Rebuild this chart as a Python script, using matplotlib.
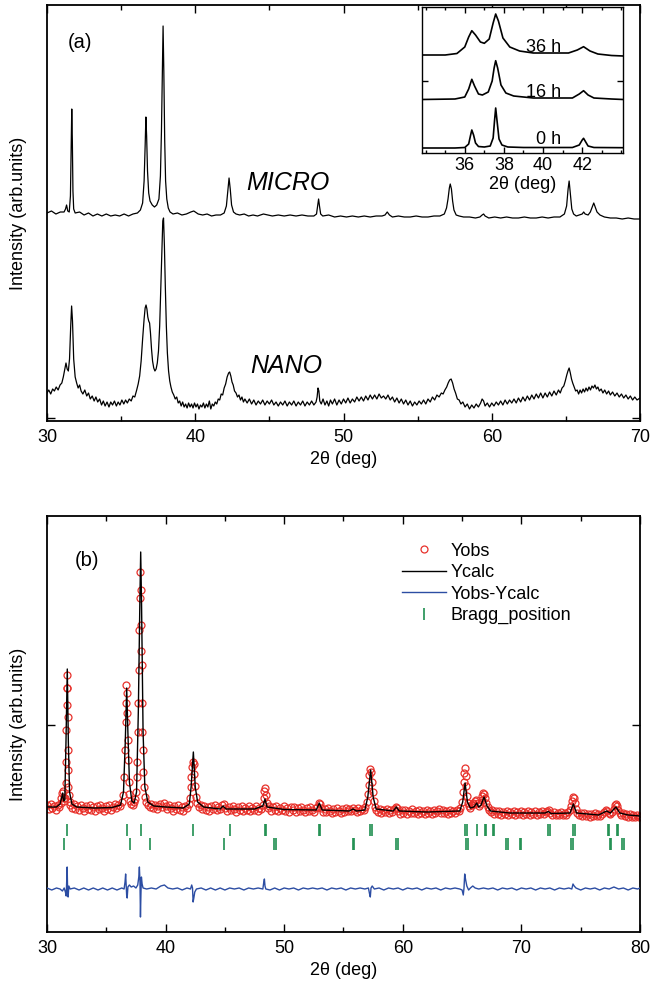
import numpy as np
import matplotlib
matplotlib.use("Agg")
import matplotlib.pyplot as plt
from matplotlib.ticker import MultipleLocator, NullFormatter

plt.rcParams['font.family'] = ['Liberation Sans', 'DejaVu Sans']

# ---------------- data: panel (a) ----------------
micro_pts = np.array([
(30.0,208),(30.3,210),(30.6,207),(30.9,209),(31.15,209),(31.25,212),(31.32,216),(31.4,210),(31.5,209),(31.58,225),(31.63,270),(31.67,312),(31.71,280),(31.75,230),(31.8,212),(31.9,208),(32.2,209),(32.5,206),(32.8,208),(33.1,205),(33.4,207),(33.7,205),(34.0,207),(34.3,205),(34.6,206),(34.9,205),(35.2,207),(35.5,205),(35.8,207),(36.1,208),(36.3,211),(36.45,218),(36.55,240),(36.62,275),(36.67,304),(36.72,285),(36.78,250),(36.86,228),(36.95,220),(37.1,216),(37.25,214),(37.4,216),(37.55,222),(37.65,245),(37.72,290),(37.78,350),(37.83,395),(37.88,350),(37.94,280),(38.0,240),(38.08,222),(38.18,213),(38.3,209),(38.5,207),(38.8,208),(39.1,206),(39.4,207),(39.7,209),(39.9,210),(40.2,207),(40.5,206),(40.8,207),(41.1,205),(41.4,206),(41.7,206),(41.95,208),(42.1,215),(42.2,230),(42.28,243),(42.36,232),(42.45,216),(42.58,209),(42.75,207),(43.0,206),(43.3,207),(43.6,205),(43.9,206),(44.2,205),(44.6,207),(44.9,206),(45.2,205),(45.6,206),(46.0,205),(46.4,206),(46.8,205),(47.2,206),(47.6,205),(48.0,205),(48.18,207),(48.26,216),(48.32,222),(48.38,215),(48.46,207),(48.6,205),(49.0,206),(49.4,204),(49.8,205),(50.2,204),(50.6,205),(51.0,204),(51.4,205),(51.8,204),(52.2,205),(52.6,205),(52.8,206),(52.95,209),(53.1,206),(53.3,204),(53.7,205),(54.1,204),(54.5,204),(54.9,205),(55.3,204),(55.7,204),(56.1,205),(56.5,205),(56.8,207),(56.95,213),(57.05,222),(57.14,233),(57.2,237),(57.28,232),(57.36,220),(57.45,211),(57.6,206),(57.8,205),(58.1,204),(58.5,204),(58.9,203),(59.2,204),(59.35,206),(59.45,207),(59.55,205),(59.8,203),(60.2,204),(60.6,203),(61.0,204),(61.4,203),(61.8,203),(62.2,204),(62.6,203),(63.0,203),(63.4,204),(63.8,203),(64.2,204),(64.6,204),(64.9,207),(65.05,215),(65.15,232),(65.22,240),(65.3,228),(65.4,212),(65.52,207),(65.7,205),(65.9,206),(66.1,207),(66.2,209),(66.3,207),(66.5,206),(66.65,209),(66.78,214),(66.88,218),(66.98,214),(67.1,209),(67.3,206),(67.6,204),(68.0,203),(68.4,203),(68.8,202),(69.2,203),(69.6,202),(70.0,202)])

nano_pts = np.array([
(30.0,28),(30.12,31),(30.25,27),(30.38,32),(30.5,30),(30.62,34),(30.75,31),(30.88,36),(31.0,38),(31.1,44),(31.2,52),(31.28,58),(31.36,52),(31.44,50),(31.52,62),(31.6,95),(31.66,115),(31.72,100),(31.8,62),(31.9,44),(32.0,38),(32.1,33),(32.2,36),(32.3,30),(32.42,27),(32.55,31),(32.68,25),(32.8,28),(32.92,22),(33.05,25),(33.18,20),(33.3,24),(33.42,19),(33.55,22),(33.68,16),(33.8,20),(33.92,15),(34.05,19),(34.18,14),(34.3,19),(34.42,16),(34.55,20),(34.68,15),(34.8,19),(34.92,16),(35.05,21),(35.18,17),(35.3,21),(35.42,18),(35.55,22),(35.68,20),(35.8,25),(35.92,24),(36.05,31),(36.15,37),(36.25,45),(36.35,60),(36.45,82),(36.55,102),(36.62,113),(36.68,116),(36.74,112),(36.8,104),(36.86,100),(36.92,98),(36.98,88),(37.05,72),(37.12,60),(37.2,53),(37.28,50),(37.36,52),(37.44,58),(37.52,70),(37.6,95),(37.68,135),(37.75,170),(37.81,200),(37.86,203),(37.92,175),(37.98,135),(38.05,95),(38.12,68),(38.2,50),(38.28,40),(38.36,34),(38.45,29),(38.55,26),(38.65,22),(38.75,24),(38.85,18),(38.95,20),(39.05,15),(39.15,19),(39.25,14),(39.35,17),(39.45,13),(39.55,18),(39.65,14),(39.75,17),(39.85,13),(39.95,18),(40.05,14),(40.15,17),(40.25,12),(40.35,16),(40.45,14),(40.55,18),(40.65,13),(40.75,17),(40.85,14),(40.95,20),(41.05,12),(41.15,17),(41.25,15),(41.35,19),(41.45,17),(41.55,22),(41.65,21),(41.75,27),(41.85,26),(41.95,33),(42.05,37),(42.15,44),(42.25,48),(42.32,49),(42.4,45),(42.48,39),(42.56,36),(42.65,30),(42.75,28),(42.85,24),(42.95,26),(43.05,21),(43.15,24),(43.25,19),(43.35,22),(43.5,18),(43.65,22),(43.8,17),(43.95,21),(44.1,16),(44.25,20),(44.4,17),(44.55,21),(44.7,16),(44.85,20),(45.0,17),(45.15,21),(45.3,16),(45.45,19),(45.6,15),(45.75,19),(45.9,16),(46.05,20),(46.2,15),(46.35,19),(46.5,16),(46.65,20),(46.8,15),(46.95,19),(47.1,16),(47.25,20),(47.4,15),(47.55,19),(47.7,16),(47.85,20),(48.0,16),(48.15,19),(48.22,24),(48.28,33),(48.34,30),(48.4,20),(48.5,17),(48.62,22),(48.75,16),(48.88,20),(49.0,15),(49.12,21),(49.25,17),(49.4,22),(49.55,16),(49.7,21),(49.85,17),(50.0,22),(50.15,18),(50.3,23),(50.45,18),(50.6,22),(50.75,19),(50.9,24),(51.05,20),(51.2,24),(51.35,20),(51.5,25),(51.65,21),(51.8,26),(51.95,22),(52.1,26),(52.25,22),(52.4,27),(52.55,23),(52.7,25),(52.85,22),(53.0,26),(53.15,21),(53.3,24),(53.45,19),(53.6,23),(53.75,18),(53.9,22),(54.05,17),(54.2,21),(54.35,16),(54.5,20),(54.65,15),(54.8,19),(54.95,16),(55.1,20),(55.25,17),(55.4,21),(55.55,17),(55.7,22),(55.85,19),(56.0,24),(56.15,21),(56.3,26),(56.45,24),(56.6,28),(56.72,27),(56.84,31),(56.96,34),(57.06,38),(57.16,41),(57.26,42),(57.36,38),(57.46,32),(57.56,28),(57.68,22),(57.8,21),(57.92,17),(58.05,19),(58.2,14),(58.35,17),(58.5,12),(58.65,16),(58.8,13),(58.95,17),(59.1,14),(59.25,18),(59.35,22),(59.45,20),(59.55,15),(59.7,18),(59.85,14),(60.0,18),(60.15,15),(60.3,19),(60.45,16),(60.6,20),(60.75,16),(60.9,21),(61.05,17),(61.2,21),(61.35,18),(61.5,22),(61.65,18),(61.8,23),(61.95,19),(62.1,24),(62.25,20),(62.4,25),(62.55,21),(62.7,26),(62.85,22),(63.0,27),(63.15,23),(63.3,28),(63.45,23),(63.6,28),(63.75,24),(63.9,29),(64.05,25),(64.2,30),(64.35,26),(64.5,31),(64.62,28),(64.74,33),(64.86,35),(64.96,40),(65.06,46),(65.14,50),(65.22,53),(65.3,48),(65.38,42),(65.46,38),(65.56,34),(65.66,30),(65.76,31),(65.86,27),(65.96,31),(66.06,28),(66.16,32),(66.26,29),(66.36,33),(66.46,30),(66.56,34),(66.66,31),(66.76,35),(66.86,33),(66.96,36),(67.06,32),(67.16,34),(67.26,30),(67.38,32),(67.5,28),(67.62,31),(67.75,27),(67.88,30),(68.0,26),(68.15,29),(68.3,25),(68.45,28),(68.6,24),(68.75,27),(68.9,23),(69.05,26),(69.2,22),(69.35,25),(69.5,21),(69.65,24),(69.8,21),(70.0,23)])

# inset (milling time series)
h0_pts = np.array([(33.8,5),(35.5,5),(36.0,5.5),(36.2,9),(36.3,18),(36.36,23),(36.45,18),(36.55,10),(36.7,6.5),(37.0,6),(37.3,7),(37.45,15),(37.52,32),(37.58,45),(37.65,32),(37.75,14),(37.9,8),(38.2,6),(39.0,5.5),(41.5,5.5),(41.85,8),(42.0,13),(42.07,14.7),(42.15,12),(42.3,7),(42.6,5.5),(44.1,5.3)])
h16_pts = np.array([(33.8,53.5),(35.5,54),(36.0,56),(36.2,64),(36.36,73.7),(36.5,67),(36.7,59),(36.9,58),(37.2,61),(37.4,72),(37.5,85),(37.58,92.3),(37.68,85),(37.85,68),(38.1,60),(38.5,57),(39.5,55),(41.5,55),(41.85,59),(42.07,62.3),(42.3,58),(42.6,55),(43.5,54),(44.1,53.5)])
h36_pts = np.array([(33.8,98),(35.0,98),(35.6,99.5),(36.0,106),(36.2,116),(36.36,122.3),(36.55,118),(36.8,111),(37.0,109.7),(37.25,114),(37.45,130),(37.58,139),(37.72,132),(37.95,115),(38.3,106),(38.8,102),(39.5,100),(41.3,100),(41.75,103),(42.07,106.3),(42.4,102),(42.8,99),(43.5,97.5),(44.1,97)])
inset_labels = ["36 h", "16 h", "0 h"]
inset_label_pos = [(39.15, 101), (39.15, 56), (39.66, 9.5)]

# ---------------- data: panel (b) ----------------
yobs_pts = np.array([
(30.0,127),(30.15,123),(30.3,128),(30.45,124),(30.6,126),(30.75,122),(30.9,127),(31.05,125),(31.15,129),
(31.22,134),(31.28,139),(31.34,141),(31.4,134),(31.46,131),(31.52,134),
(31.58,149),(31.61,170),(31.64,202),(31.66,227),(31.68,244),(31.70,257),(31.72,244),(31.74,215),(31.76,182),(31.78,162),(31.80,145),(31.84,137),(31.9,130),(31.98,127),
(32.1,124),(32.25,128),(32.4,123),(32.55,126),(32.7,122),(32.85,127),(33.0,124),(33.15,121),(33.3,126),(33.45,123),(33.6,127),(33.75,122),(33.9,125),(34.05,121),(34.2,126),(34.35,123),(34.5,127),(34.65,124),(34.8,121),(34.95,126),(35.1,123),(35.25,127),(35.4,122),(35.55,125),(35.7,128),(35.85,124),(36.0,127),(36.15,126),(36.3,130),
(36.45,137),(36.52,155),(36.58,182),(36.62,210),(36.66,229),(36.70,247),(36.73,239),(36.76,219),(36.79,192),(36.83,172),(36.88,150),(36.94,138),(37.02,131),(37.12,128),(37.22,127),(37.32,130),(37.42,133),(37.5,140),
(37.56,155),(37.61,170),(37.65,200),(37.70,229),(37.74,262),(37.78,302),(37.82,334),(37.86,360),(37.89,342),(37.92,307),(37.95,281),(37.98,267),(38.01,229),(38.04,200),(38.08,182),(38.12,160),(38.18,145),(38.26,135),(38.36,130),(38.5,127),
(38.65,125),(38.8,128),(38.95,124),(39.1,127),(39.25,123),(39.4,126),(39.55,128),(39.7,125),(39.85,129),(40.0,126),(40.15,123),(40.3,127),(40.45,124),(40.6,121),(40.75,126),(40.9,123),(41.05,127),(41.2,122),(41.35,125),(41.5,121),(41.65,126),(41.8,124),(41.95,128),
(42.05,134),(42.12,145),(42.18,155),(42.24,165),(42.3,170),(42.36,168),(42.42,158),(42.48,146),(42.56,135),(42.66,129),(42.8,125),
(42.95,127),(43.1,123),(43.25,126),(43.4,122),(43.55,125),(43.7,121),(43.85,126),(44.0,123),(44.15,127),(44.3,122),(44.45,125),(44.6,123),(44.75,127),(44.9,128),(45.05,124),(45.2,121),(45.35,125),(45.5,122),(45.65,126),(45.8,123),(45.95,120),(46.1,125),(46.25,122),(46.4,126),(46.55,121),(46.7,124),(46.85,122),(47.0,126),(47.15,121),(47.3,124),(47.45,122),(47.6,126),(47.75,121),(47.9,124),(48.05,123),(48.18,127),
(48.26,134),(48.32,141),(48.38,144),(48.44,137),(48.52,129),(48.62,124),
(48.75,126),(48.9,121),(49.05,125),(49.2,122),(49.35,126),(49.5,121),(49.65,124),(49.8,122),(49.95,126),(50.1,121),(50.25,124),(50.4,120),(50.55,125),(50.7,122),(50.85,125),(51.0,120),(51.15,124),(51.3,121),(51.45,125),(51.6,122),(51.75,120),(51.9,124),(52.05,121),(52.2,125),(52.35,122),(52.5,120),(52.65,124),(52.8,125),(52.9,129),(53.0,128),(53.1,124),(53.25,120),(53.4,123),(53.55,120),(53.7,124),(53.85,121),(54.0,119),(54.15,123),(54.3,120),(54.45,124),(54.6,121),(54.75,119),(54.9,123),(55.05,120),(55.2,124),(55.35,121),(55.5,123),(55.65,121),(55.8,124),(55.95,122),(56.1,120),(56.25,124),(56.4,121),(56.55,123),(56.7,122),(56.85,125),
(56.95,130),(57.05,138),(57.12,147),(57.19,157),(57.26,163),(57.33,160),(57.4,150),(57.47,140),(57.55,131),(57.65,125),(57.78,122),
(57.9,120),(58.05,123),(58.2,119),(58.35,122),(58.5,120),(58.65,123),(58.8,119),(58.95,122),(59.1,120),(59.25,123),(59.4,125),(59.5,124),(59.6,121),(59.75,118),(59.9,122),(60.05,119),(60.2,122),(60.35,118),(60.5,121),(60.65,119),(60.8,123),(60.95,119),(61.1,121),(61.25,118),(61.4,122),(61.55,119),(61.7,121),(61.85,118),(62.0,122),(62.15,119),(62.3,121),(62.45,118),(62.6,122),(62.75,119),(62.9,121),(63.05,123),(63.2,119),(63.35,122),(63.5,119),(63.65,121),(63.8,118),(63.95,122),(64.1,119),(64.25,121),(64.4,119),(64.55,122),(64.7,121),(64.85,124),
(64.98,130),(65.06,140),(65.13,150),(65.19,159),(65.24,164),(65.29,156),(65.35,146),(65.42,136),(65.5,129),(65.6,126),(65.7,124),(65.8,127),(65.9,129),(66.0,128),(66.1,131),(66.2,132),(66.3,129),(66.42,126),(66.54,128),(66.64,132),(66.72,136),(66.8,139),(66.88,138),(66.96,134),(67.05,129),(67.15,125),(67.28,122),
(67.4,120),(67.55,122),(67.7,118),(67.85,121),(68.0,118),(68.15,121),(68.3,117),(68.45,120),(68.6,118),(68.75,121),(68.9,117),(69.05,120),(69.2,118),(69.35,121),(69.5,117),(69.65,120),(69.8,118),(69.95,121),(70.1,117),(70.25,120),(70.4,118),(70.55,121),(70.7,117),(70.85,120),(71.0,118),(71.15,121),(71.3,117),(71.45,120),(71.6,118),(71.75,121),(71.9,118),(72.05,120),(72.2,121),(72.3,122),(72.45,119),(72.6,117),(72.75,120),(72.9,117),(73.05,119),(73.2,117),(73.35,120),(73.5,117),(73.65,119),(73.8,117),(73.95,120),(74.08,122),
(74.18,126),(74.26,131),(74.34,135),(74.42,134),(74.5,129),(74.6,123),(74.72,119),
(74.85,117),(75.0,119),(75.15,116),(75.3,119),(75.45,116),(75.6,118),(75.75,115),(75.9,118),(76.05,116),(76.2,119),(76.35,116),(76.5,118),(76.65,116),(76.8,118),(76.95,120),(77.1,122),(77.22,121),(77.35,119),(77.5,118),(77.65,120),(77.78,123),(77.88,127),(77.97,128),(78.06,126),(78.16,122),(78.28,119),(78.4,117),(78.55,119),(78.7,116),(78.85,118),(79.0,115),(79.15,118),(79.3,115),(79.45,117),(79.6,115),(79.75,117),(79.9,115),(80.0,116)])

ycalc_pts = np.array([
(30.0,125),(30.8,125),(31.1,128),(31.25,135),(31.32,139),(31.4,131),(31.5,132),(31.6,190),(31.71,263),(31.8,190),(31.9,140),(32.1,128),(32.5,125),(34.0,124),(35.5,124.5),(36.2,127),(36.45,140),(36.6,190),(36.72,244),(36.82,200),(36.95,150),(37.15,131),(37.35,129),(37.55,140),(37.7,220),(37.83,330),(37.9,380),(37.97,330),(38.1,200),(38.25,145),(38.5,130),(39.0,126),(40.0,125),(41.5,124),(42.0,128),(42.15,145),(42.34,180),(42.5,145),(42.7,130),(43.2,125),(44.6,123),(44.84,126),(45.1,123),(47.5,123),(48.2,126),(48.38,133),(48.55,125),(50.0,122.5),(52.7,122),(52.96,129),(53.2,122),(55.5,121),(55.8,123),(56.1,121),(56.8,122),(57.05,135),(57.29,162),(57.5,135),(57.75,123),(59.2,121),(59.45,125),(59.7,121),(62.0,120),(64.8,121),(65.05,130),(65.25,149),(65.45,130),(65.7,124),(66.0,125),(66.23,129),(66.4,125),(66.6,127),(66.85,135),(67.1,126),(67.4,121),(69.0,119),(72.0,119),(72.27,120.5),(72.5,118.5),(74.1,119),(74.38,128),(74.65,119),(76.5,117),(77.19,121),(77.5,119),(77.97,125),(78.3,119),(79.0,117),(80.0,116)])

diff_pts = np.array([(30.0,44),(30.4,42),(30.8,44),(31.1,43),(31.3,41),(31.45,44),(31.55,40),(31.62,36),(31.66,52),(31.7,65),(31.74,40),(31.78,35),(31.84,46),(31.95,43),(32.3,44),(32.7,42),(33.1,44),(33.5,42),(33.9,44),(34.3,42),(34.7,44),(35.1,42),(35.5,44),(35.9,42),(36.3,44),(36.5,43),(36.58,50),(36.63,58),(36.68,46),(36.72,36),(36.76,34),(36.82,45),(36.95,47),(37.1,45),(37.3,46),(37.5,44),(37.65,47),(37.74,55),(37.79,65),(37.84,50),(37.88,15),(37.92,38),(37.96,55),(38.02,48),(38.1,44),(38.4,43),(38.8,44),(39.2,43),(39.6,46),(39.9,47),(40.2,44),(40.6,43),(41.0,44),(41.4,42),(41.8,44),(42.1,43),(42.2,47),(42.27,44),(42.32,30),(42.38,34),(42.46,40),(42.6,43),(43.0,44),(43.4,42),(43.8,44),(44.2,42),(44.6,44),(45.0,42),(45.4,44),(45.8,43),(46.2,44),(46.6,42),(47.0,44),(47.4,43),(47.8,44),(48.2,43),(48.28,50),(48.33,53),(48.38,46),(48.45,43),(48.8,42),(49.2,44),(49.6,42),(50.0,44),(50.4,43),(50.8,44),(51.2,42),(51.6,44),(52.0,43),(52.4,44),(52.8,43),(53.2,44),(53.6,42),(54.0,44),(54.4,43),(54.8,44),(55.2,42),(55.6,44),(56.0,43),(56.4,44),(56.8,43),(57.1,44),(57.2,38),(57.26,35),(57.32,44),(57.42,46),(57.6,43),(58.0,44),(58.4,42),(58.8,44),(59.2,43),(59.6,44),(60.0,42),(60.4,44),(60.8,43),(61.2,44),(61.6,42),(62.0,44),(62.4,43),(62.8,44),(63.2,42),(63.6,44),(64.0,43),(64.4,44),(64.8,43),(65.0,42),(65.1,37),(65.16,44),(65.22,58),(65.3,52),(65.4,46),(65.55,42),(65.7,44),(65.9,46),(66.1,44),(66.4,43),(66.8,44),(67.2,43),(67.6,44),(68.0,42),(68.4,44),(68.8,43),(69.2,44),(69.6,42),(70.0,44),(70.4,43),(70.8,44),(71.2,42),(71.6,44),(72.0,43),(72.4,44),(72.8,42),(73.2,44),(73.6,43),(74.0,44),(74.25,43),(74.35,48),(74.45,46),(74.6,44),(75.0,42),(75.4,44),(75.8,43),(76.2,44),(76.6,42),(77.0,44),(77.4,43),(77.8,45),(78.2,43),(78.6,44),(79.0,42),(79.4,44),(79.8,43),(80.0,44)])

bragg_phase1 = [31.72, 36.74, 37.90, 42.34, 45.43, 48.34, 48.46, 52.93, 53.05, 57.26, 57.38, 65.28, 65.40, 66.22, 66.94, 67.05, 67.62, 67.73, 72.26, 72.38, 74.36, 74.50, 77.30, 77.42, 78.02, 78.15]
bragg_phase2 = [31.45, 37.00, 38.68, 44.92, 49.18, 49.30, 55.76, 55.88, 59.46, 59.58, 65.36, 65.48, 68.74, 68.86, 69.85, 69.97, 74.22, 74.34, 77.45, 77.57, 78.52, 78.64]
bragg_levels = [102, 88.5]

legend_labels = ["Yobs", "Ycalc", "Yobs-Ycalc", "Bragg_position"]

# ---------------- figure ----------------
W, H = 651, 990
fig = plt.figure(figsize=(W/100, H/100), dpi=100)
axA = fig.add_axes([47/W, 1-421/H, 593/W, 416/H])
axB = fig.add_axes([47/W, 1-932/H, 593/W, 416/H])
axI = fig.add_axes([421.7/W, 1-153/H, 201.6/W, 146/H])

def style(ax, fs=13, lw=1.3):
    for s in ax.spines.values():
        s.set_linewidth(lw)
    ax.tick_params(which='both', direction='in', top=True, right=True,
                   labelsize=fs, pad=5.5, width=1.0)
    ax.tick_params(which='major', length=6)
    ax.tick_params(which='minor', length=3.5)
    ax.yaxis.set_major_formatter(NullFormatter())

RED = '#e8312b'
BLUE = '#2c4da3'
GREEN = '#1f8f50'

# panel (a)
style(axA)
axA.plot(micro_pts[:, 0], micro_pts[:, 1], color='black', lw=0.9)
axA.plot(nano_pts[:, 0], nano_pts[:, 1], color='black', lw=0.9)
axA.set_xlim(30, 70)
axA.set_ylim(0, 416)
axA.xaxis.set_major_locator(MultipleLocator(10))
axA.xaxis.set_minor_locator(MultipleLocator(5))
axA.set_yticks([3])
axA.set_xlabel('2θ (deg)', fontsize=13, labelpad=4)
axA.set_ylabel('Intensity (arb.units)', fontsize=13, labelpad=9)
axA.text(32.2, 378, '(a)', fontsize=14.5, ha='center', va='center')
axA.text(43.47, 231, 'MICRO', fontsize=18, style='italic', ha='left', va='baseline')
axA.text(43.73, 48, 'NANO', fontsize=18, style='italic', ha='left', va='baseline')

# inset
style(axI, lw=1.0)
axI.set_zorder(5)
axI.patch.set_facecolor('white')
for pts in (h0_pts, h16_pts, h36_pts):
    axI.plot(pts[:, 0], pts[:, 1], color='black', lw=1.2)
axI.set_xlim(33.8, 44.1)
axI.set_ylim(0, 146)
axI.set_xticks([36, 38, 40, 42])
axI.xaxis.set_minor_locator(MultipleLocator(1))
axI.set_yticks([72])
axI.tick_params(which='major', length=4, pad=3)
axI.tick_params(which='minor', length=2.5)
axI.set_xlabel('2θ (deg)', fontsize=13, labelpad=1)
for lab, (x, y) in zip(inset_labels, inset_label_pos):
    axI.text(x, y, lab, fontsize=13, ha='left', va='baseline')

# panel (b)
style(axB)
axB.plot(yobs_pts[:, 0], yobs_pts[:, 1], ls='none', marker='o', ms=5,
         mfc='none', mec=RED, mew=0.9, label=legend_labels[0], zorder=2)
axB.plot(ycalc_pts[:, 0], ycalc_pts[:, 1], color='black', lw=1.0,
         label=legend_labels[1], zorder=3)
axB.plot(diff_pts[:, 0], diff_pts[:, 1], color=BLUE, lw=1.0,
         label=legend_labels[2], zorder=3)
axB.plot(bragg_phase1, [bragg_levels[0]]*len(bragg_phase1), ls='none',
         marker='|', ms=8.5, mew=1.2, color=GREEN, label=legend_labels[3])
axB.plot(bragg_phase2, [bragg_levels[1]]*len(bragg_phase2), ls='none',
         marker='|', ms=8.5, mew=1.2, color=GREEN)
axB.set_xlim(30, 80)
axB.set_ylim(0, 416)
axB.xaxis.set_major_locator(MultipleLocator(10))
axB.xaxis.set_minor_locator(MultipleLocator(5))
axB.set_yticks([207])
axB.set_xlabel('2θ (deg)', fontsize=13, labelpad=4)
axB.set_ylabel('Intensity (arb.units)', fontsize=13, labelpad=9)
axB.text(33.41, 372, '(b)', fontsize=14.5, ha='center', va='center')
axB.legend(loc='upper left', bbox_to_anchor=(0.599, 0.936), frameon=False,
           fontsize=13, handlelength=2.4, handletextpad=0.3, labelspacing=0.25,
           borderaxespad=0, borderpad=0, numpoints=1)

fig.savefig('out.png', dpi=100)
